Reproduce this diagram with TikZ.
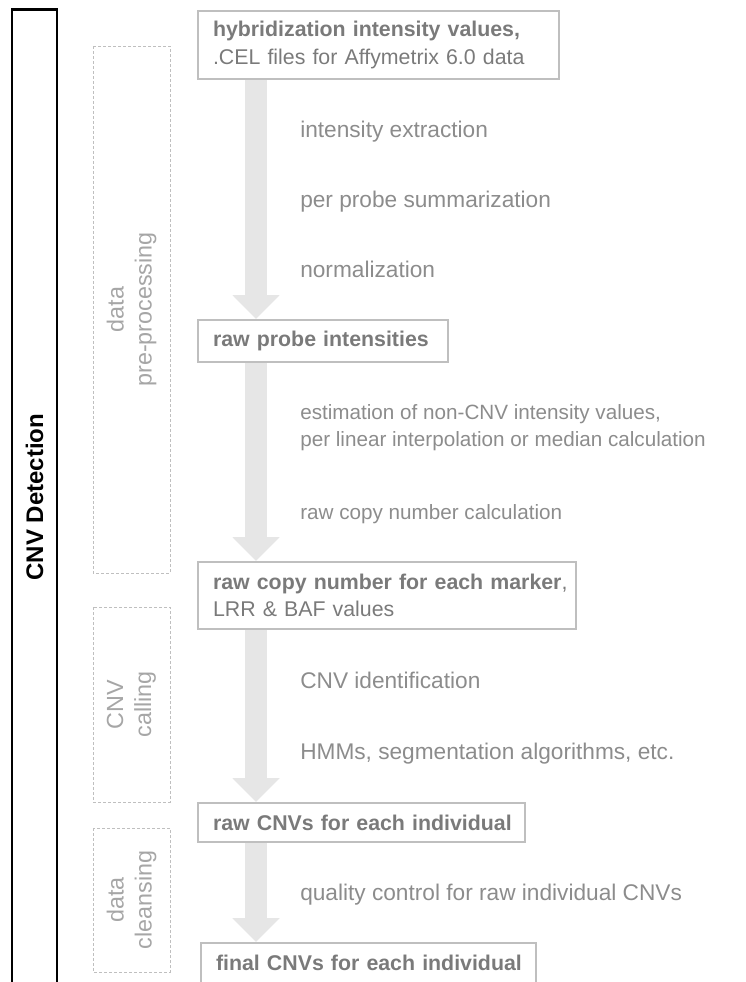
\documentclass[tikz,border=0pt]{standalone}
\usepackage{fontspec}
\setmainfont{Liberation Sans}
\usetikzlibrary{arrows.meta}

\definecolor{boxline}{HTML}{BFBFBF}
\definecolor{boxtext}{HTML}{7A7A7A}
\definecolor{steptext}{HTML}{8C8C8C}
\definecolor{phasetext}{HTML}{A6A6A6}
\definecolor{flowfill}{HTML}{E6E6E6}

\begin{document}
\begin{tikzpicture}[x=0.75pt,y=-0.75pt,
  % result boxes of the pipeline
  stagebox/.style={draw=boxline, line width=1.5pt, anchor=north west,
    inner xsep=11.25pt, inner ysep=0pt, align=left, text=boxtext,
    font=\fontsize{16}{20.5}\selectfont\bfseries},
  % descriptions of the processing steps
  steplabel/.style={anchor=base west, inner sep=0pt, text=steptext,
    font=\fontsize{17}{20.25}\selectfont},
  smallstep/.style={steplabel, font=\fontsize{15.5}{20.25}\selectfont},
  % dashed frames naming the phases
  phaseframe/.style={draw=boxline, line width=0.75pt,
    dash pattern=on 2.25pt off 1.5pt, rotate=90, align=center,
    inner sep=0pt, text=phasetext,
    font=\fontsize{17.5}{21}\selectfont},
  % broad grey arrows between the boxes
  flow/.style={draw=flowfill, line width=16.5pt,
    -{Triangle[length=18pt, width=34.5pt]}}
]
\useasboundingbox (0,0) rectangle (746,982);

% outer frame with the overall title
\node[draw=black, line width=1.8pt, rotate=90, minimum width=731.25pt,
  minimum height=33.75pt, inner sep=0pt,
  font=\fontsize{18}{21}\selectfont\bfseries] (main) at (34.5,497) {CNV Detection};

% phase frames
\node[phaseframe, minimum width=395.25pt, minimum height=57.75pt]
  (pre) at (131.5,309.5) {data\\pre-processing};
\node[phaseframe, minimum width=146.25pt, minimum height=57.75pt]
  (call) at (131.5,704.5) {CNV\\calling};
\node[phaseframe, minimum width=108pt, minimum height=57.75pt]
  (clean) at (131.5,900) {data\\cleansing};

% result boxes
\node[stagebox, text width=248.25pt, minimum height=51pt] (b1) at (197,10)
  {\mbox{hybridization intensity values,}\\[0.5pt]
   \mbox{\mdseries .CEL files for Affymetrix 6.0 data}};
\node[stagebox, text width=165pt, minimum height=31.5pt] (b2) at (197,319)
  {\mbox{raw probe intensities}};
\node[stagebox, text width=261pt, minimum height=50.25pt] (b3) at (197,561)
  {\mbox{raw copy number for each marker\mdseries,}\\
   \mbox{\mdseries LRR \& BAF values}};
\node[stagebox, text width=222.75pt, minimum height=29.25pt] (b4) at (197,802)
  {\mbox{raw CNVs for each individual}};
\node[stagebox, text width=228.75pt, minimum height=30pt] (b5) at (200,942)
  {\mbox{final CNVs for each individual}};

% arrows
\coordinate (ax) at (256,0);
\draw[flow] (b1.south -| ax) -- (b2.north -| ax);
\draw[flow] (b2.south -| ax) -- (b3.north -| ax);
\draw[flow] (b3.south -| ax) -- (b4.north -| ax);
\draw[flow] (b4.south -| ax) -- (b5.north -| ax);

% step descriptions
\node[steplabel] (s1) at (300,137) {intensity extraction};
\node[steplabel] (s2) at (300,207) {per probe summarization};
\node[steplabel] (s3) at (300,277) {normalization};
\node[smallstep, anchor=west, align=left] (s4) at (300,428)
  {estimation of non-CNV intensity values,\\
   per linear interpolation or median calculation};
\node[smallstep] (s5) at (300,519) {raw copy number calculation};
\node[steplabel] (s6) at (300,688) {CNV identification};
\node[steplabel] (s7) at (300,759) {HMMs, segmentation algorithms, etc.};
\node[steplabel] (s8) at (300,900) {quality control for raw individual CNVs};
\end{tikzpicture}
\end{document}
